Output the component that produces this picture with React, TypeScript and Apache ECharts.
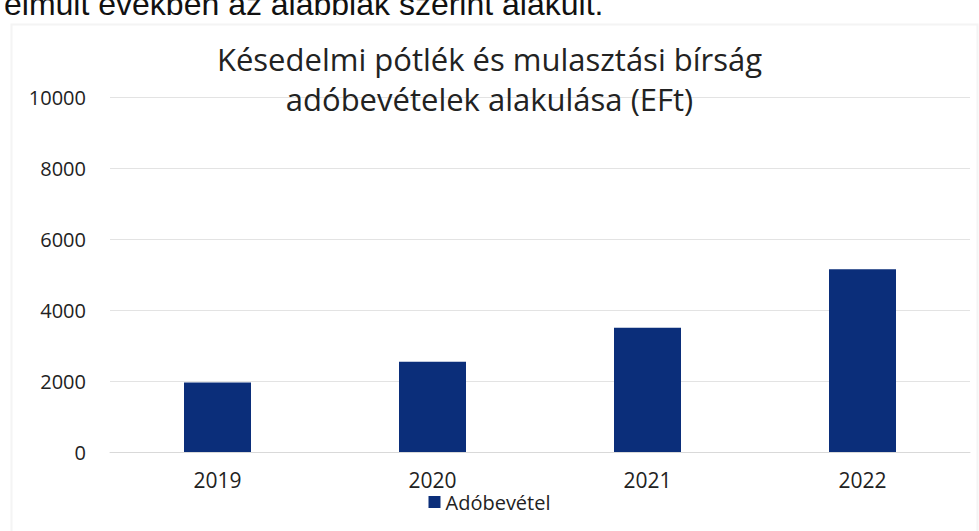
import React, { useEffect, useRef } from "react";
import * as echarts from "echarts";

const categories = ["2019", "2020", "2021", "2022"];
const seriesName = "Adóbevétel";
const values = [1960, 2540, 3500, 5150];
const titleText = "Késedelmi pótlék és mulasztási bírság\nadóbevételek alakulása (EFt)";
const docText = "elmúlt években az alábbiak szerint alakult.";

export default function App() {
  const ref = useRef<HTMLDivElement>(null);
  useEffect(() => {
    if (!ref.current) return;
    const chart = echarts.init(ref.current, null, { renderer: "svg" });
    chart.setOption({
      animation: false,
      backgroundColor: "#ffffff",
      title: {
        text: titleText,
        left: "center",
        top: 34,
        textStyle: {
          fontFamily: "Open Sans",
          fontSize: 31,
          fontWeight: "normal",
          color: "#222222",
          lineHeight: 40,
        },
      },
      graphic: [
        {
          type: "rect",
          left: 9,
          top: 22,
          shape: { width: 966, height: 508 },
          style: { fill: "none", stroke: "#f4f4f4", lineWidth: 2 },
          silent: true,
        },
        {
          type: "text",
          left: 4,
          top: -12,
          style: {
            text: docText,
            fontFamily: "Liberation Sans",
            fontSize: 32,
            fill: "#111111",
          },
        },
      ],
      legend: {
        data: [seriesName],
        bottom: 14,
        left: "center",
        itemWidth: 12,
        itemHeight: 12,
        icon: "rect",
        itemGap: 6,
        textStyle: { fontFamily: "Open Sans", fontSize: 20, color: "#222222" },
      },
      grid: { left: 110, right: 9, top: 97, bottom: 79, containLabel: false },
      xAxis: {
        type: "category",
        data: categories,
        axisLine: { show: true, lineStyle: { color: "#d9d9d9", width: 1 } },
        axisTick: { show: false },
        axisLabel: {
          fontFamily: "Open Sans",
          fontSize: 21,
          color: "#222222",
          margin: 17,
        },
      },
      yAxis: {
        type: "value",
        min: 0,
        max: 10000,
        interval: 2000,
        axisLine: { show: false },
        axisTick: { show: false },
        splitLine: { lineStyle: { color: "#e3e3e3", width: 1 } },
        axisLabel: {
          fontFamily: "Open Sans",
          fontSize: 20,
          color: "#222222",
          margin: 24,
          formatter: (v: number) => String(v),
        },
      },
      series: [
        {
          name: seriesName,
          type: "bar",
          data: values,
          barWidth: 67,
          itemStyle: { color: "#0b2e7a" },
        },
      ],
    });
    return () => chart.dispose();
  }, []);
  return (
    <div
      ref={ref}
      style={{ position: "absolute", left: 0, top: 0, width: 979, height: 531 }}
    />
  );
}
